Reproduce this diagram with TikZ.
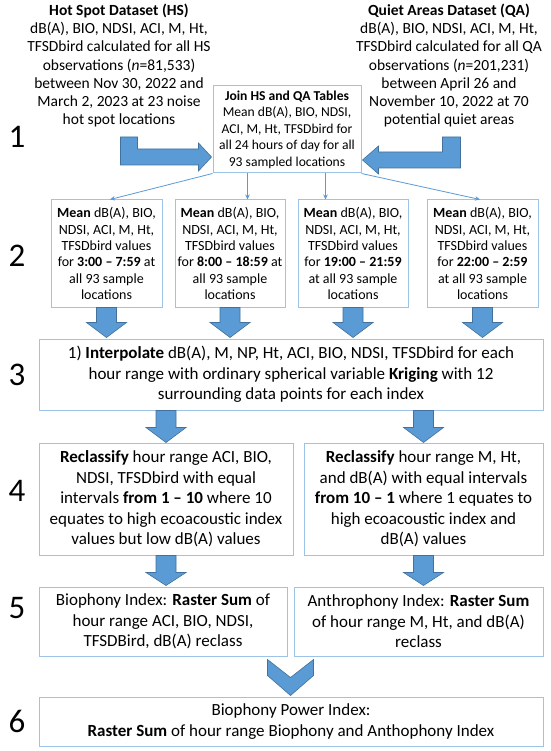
\documentclass[tikz,border=0pt]{standalone}
\usepackage{fontspec}
\setmainfont{Carlito}
\usetikzlibrary{arrows.meta,calc}
\definecolor{boxblue}{RGB}{157,195,230}
\definecolor{fatblue}{RGB}{91,155,213}
\definecolor{fatedge}{RGB}{65,113,156}
\definecolor{linkblue}{RGB}{91,155,213}
\newcommand{\fatdown}[3]{\filldraw[fat] (#1) ++(-10,0) -- ++(0,#2) -- ++(-10,0) -- ++(20,#3) -- ++(20,-#3) -- ++(-10,0) -- ++(0,-#2) -- cycle;}
\begin{document}
\begin{tikzpicture}[x=1pt,y=-1pt,
  box/.style={draw=boxblue,line width=1pt,align=center,inner sep=0pt},
  fat/.style={fill=fatblue,draw=fatedge,line width=0.6pt,line join=miter},
  conn/.style={draw=linkblue,line width=0.8pt,-{Stealth[length=5pt,width=4.5pt]}},
  stepnum/.style={font=\fontsize{33}{36}\selectfont,inner sep=0pt},
  head/.style={align=center,inner sep=0pt,font=\fontsize{15.5}{18.3}\selectfont},
  smalltxt/.style={font=\fontsize{13.6}{16.5}\selectfont},
  midtxt/.style={font=\fontsize{14}{16.3}\selectfont},
  bigtxt/.style={font=\fontsize{17}{20.5}\selectfont}]
\useasboundingbox (0,0) rectangle (550,751);
\fill[white] (0,0) rectangle (550,751);

% step numbers
\node[stepnum] (n1) at (17,137) {1};
\node[stepnum] (n2) at (17,256) {2};
\node[stepnum] (n3) at (17,375) {3};
\node[stepnum] (n4) at (17,491) {4};
\node[stepnum] (n5) at (17,608) {5};
\node[stepnum] (n6) at (17,721) {6};

% datasets
\node[head] (hs) at (119,65.5) {\textbf{Hot Spot Dataset (HS)}\\dB(A), BIO, NDSI, ACI, M, Ht,\\TFSDbird calculated for all HS\\observations (\textit{n}=81,533)\\between Nov 30, 2022 and\\March 2, 2023 at 23 noise\\hot spot locations};
\node[head] (qa) at (449,65.5) {\textbf{Quiet Areas Dataset (QA)}\\dB(A), BIO, NDSI, ACI, M, Ht,\\TFSDbird calculated for all QA\\observations (\textit{n}=201,231)\\between April 26 and\\November 10, 2022 at 70\\potential quiet areas};

% join box
\node[box,smalltxt,minimum width=148pt,minimum height=87pt] (join) at (287,129.5) {\textbf{Join HS and QA Tables}\\Mean dB(A), BIO, NDSI,\\ACI, M, Ht, TFSDbird for\\all 24 hours of day for all\\93 sampled locations};

% row 2
\node[box,midtxt,minimum width=111pt,minimum height=107pt] (m1) at (106.5,253.5) {\textbf{Mean} dB(A), BIO,\\NDSI, ACI, M, Ht,\\TFSDbird values\\for \textbf{3:00 – 7:59} at\\all 93 sample\\locations};
\node[box,midtxt,minimum width=110pt,minimum height=107pt] (m2) at (230,253.5) {\textbf{Mean} dB(A), BIO,\\NDSI, ACI, M, Ht,\\TFSDbird values\\for \textbf{8:00 – 18:59} at\\all 93 sample\\locations};
\node[box,midtxt,minimum width=110pt,minimum height=107pt] (m3) at (353,253.5) {\textbf{Mean} dB(A), BIO,\\NDSI, ACI, M, Ht,\\TFSDbird values\\for \textbf{19:00 – 21:59}\\at all 93 sample\\locations};
\node[box,midtxt,minimum width=111pt,minimum height=107pt] (m4) at (482.5,253.5) {\textbf{Mean} dB(A), BIO,\\NDSI, ACI, M, Ht,\\TFSDbird values\\for \textbf{22:00 – 2:59}\\at all 93 sample\\locations};

% row 3
\node[box,bigtxt,minimum width=504pt,minimum height=71pt] (r3) at (291,374.5) {1) \textbf{Interpolate} dB(A), M, NP, Ht, ACI, BIO, NDSI, TFSDbird for each\\hour range with ordinary spherical variable \textbf{Kriging} with 12\\surrounding data points for each index};

% row 4
\node[box,bigtxt,minimum width=254pt,minimum height=112pt] (r4a) at (166,499) {\textbf{Reclassify} hour range ACI, BIO,\\NDSI, TFSDbird with equal\\intervals \textbf{from 1 – 10} where 10\\equates to high ecoacoustic index\\values but low dB(A) values};
\node[box,bigtxt,minimum width=239pt,minimum height=112pt] (r4b) at (423.5,499) {\textbf{Reclassify} hour range M, Ht,\\and dB(A) with equal intervals\\\textbf{from 10 – 1} where 1 equates to\\high ecoacoustic index and\\dB(A) values};

% row 5
\node[box,bigtxt,minimum width=248pt,minimum height=69pt] (r5a) at (163,621.5) {Biophony Index: \textbf{Raster Sum} of\\hour range ACI, BIO, NDSI,\\TFSDBird, dB(A) reclass};
\node[box,bigtxt,minimum width=249pt,minimum height=69pt] (r5b) at (418.5,621.5) {Anthrophony Index: \textbf{Raster Sum}\\of hour range M, Ht, and dB(A)\\reclass};

% row 6
\node[box,bigtxt,minimum width=504pt,minimum height=49pt] (r6) at (291,721.5) {Biophony Power Index:\\\textbf{Raster Sum} of hour range Biophony and Anthophony Index};

% bent fat arrows into join box
\coordinate (hstip) at ($(join.west)+(-1,27.5)$);
\filldraw[fat] (hstip) -- ++(-13,-14) -- ++(0,6) -- ++(-61,0) -- ++(0,-12) -- ++(-17,0) -- ++(0,28) -- ++(78,0) -- ++(0,6) -- cycle;
\coordinate (qatip) at ($(join.east)+(1,30.5)$);
\filldraw[fat] (qatip) -- ++(16,-14) -- ++(0,6) -- ++(64,0) -- ++(0,-15) -- ++(18,0) -- ++(0,31) -- ++(-82,0) -- ++(0,6) -- cycle;

% thin connectors
\draw[conn] (join.south west) -- ($(m1.north)+(3.5,0)$);
\draw[conn] ([xshift=35pt]join.south west) -- ([xshift=35pt]join.south west |- m2.north);
\draw[conn] ([xshift=-36pt]join.south east) -- ([xshift=-36pt]join.south east |- m3.north);
\draw[conn] (join.south east) -- ($(m4.north)+(-2.5,0)$);

% fat down arrows row 2 -> 3
\fatdown{m1.south}{15}{15}
\fatdown{m2.south}{15}{15}
\fatdown{m3.south}{15}{15}
\fatdown{m4.south}{15}{15}
% row 3 -> 4
\fatdown{r3.south -| r4a.north}{17}{15}
\fatdown{r3.south -| r4b.north}{17}{15}
% row 4 -> 5
\fatdown{r4a.south}{17}{13}
\fatdown{r4b.south}{17}{13}

% chevron row 5 -> 6
\coordinate (chev) at ($(r5a.south east)!0.5!(r5b.south west)$);
\filldraw[fat] ($(chev)+(-23,3)$) -- ($(chev)+(0,21)$) -- ($(chev)+(23,3)$) -- ($(chev)+(23,19)$) -- ($(r6.north -| chev)+(0,-1)$) -- ($(chev)+(-23,19)$) -- cycle;
\end{tikzpicture}
\end{document}
